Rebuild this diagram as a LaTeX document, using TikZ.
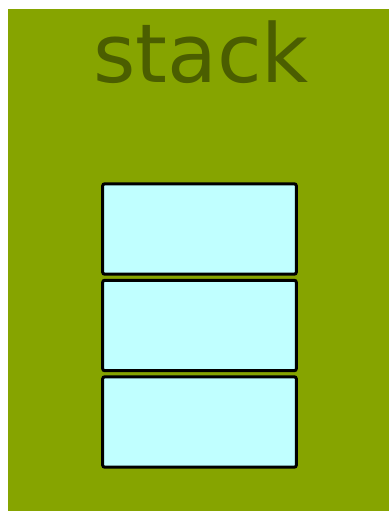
\documentclass[tikz,border=0pt]{standalone}
\usepackage{fontspec}
\setmainfont{DejaVu Sans}
\usetikzlibrary{positioning}
\definecolor{stackbg}{RGB}{134,164,0}
\definecolor{stacktext}{RGB}{75,94,0}
\definecolor{slotfill}{RGB}{192,255,255}
\tikzset{
  slot/.style={draw=black, fill=slotfill, line width=2.25pt, rounded corners=1.5pt,
    minimum width=145.2pt, minimum height=67.8pt, inner sep=0pt},
}

\begin{document}
\begin{tikzpicture}[x=0.75pt, y=-0.75pt]
			\useasboundingbox (0,0) rectangle (389,511);
			\fill[stackbg] (8,9) rectangle (389,511);
			\node[text=stacktext, font=\fontsize{61}{61}\selectfont, anchor=base] (title) at (201,82.7) {stack};
% 			three slots of the stack
			\node[slot] (top) at (199.5,229) {};
			\node[slot] (middle) at (199.5,325.5) {};
			\node[slot] (bottom) at (199.5,422) {};
\end{tikzpicture}
\end{document}
